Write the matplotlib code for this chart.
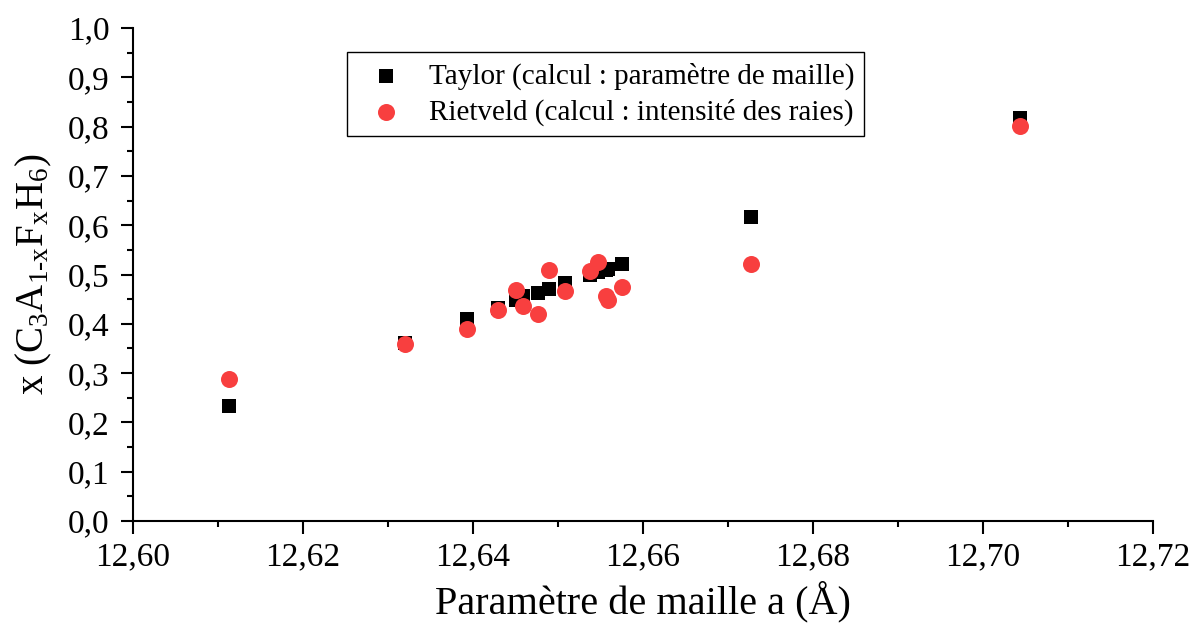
import numpy as np
import matplotlib.pyplot as plt
from matplotlib.ticker import MultipleLocator, FuncFormatter

plt.rcParams['font.family'] = ['Liberation Serif', 'DejaVu Serif']
plt.rcParams['mathtext.fontset'] = 'custom'
plt.rcParams['mathtext.rm'] = 'Liberation Serif'
plt.rcParams['mathtext.default'] = 'rm'

# lattice parameter a (Å), shared by both series
a_param = [12.6113, 12.6320, 12.6393, 12.6430, 12.6451, 12.6459, 12.6476,
           12.6490, 12.6508, 12.6538, 12.6547, 12.6557, 12.6559, 12.6575,
           12.6727, 12.7044]
# Taylor (from lattice parameter)
x_taylor = [0.233, 0.362, 0.409, 0.432, 0.449, 0.456, 0.462,
            0.471, 0.483, 0.500, 0.505, 0.510, 0.512, 0.522,
            0.617, 0.818]
# Rietveld (from line intensities)
x_rietveld = [0.288, 0.360, 0.390, 0.427, 0.468, 0.436, 0.419,
              0.510, 0.466, 0.507, 0.525, 0.456, 0.449, 0.474,
              0.522, 0.801]

fig = plt.figure(figsize=(12, 6.33), dpi=100)
ax = fig.add_axes([0.1108, 0.1769, 0.85, 0.7789])

ax.scatter(a_param, x_taylor, marker='s', s=110, color='black', linewidths=0,
           label='Taylor (calcul : paramètre de maille)', zorder=3)
ax.scatter(a_param, x_rietveld, marker='o', s=150, color='#f83f3f', linewidths=0,
           label='Rietveld (calcul : intensité des raies)', zorder=4)

ax.set_xlim(12.60, 12.72)
ax.set_ylim(0.0, 1.0)
ax.xaxis.set_major_locator(MultipleLocator(0.02))
ax.xaxis.set_minor_locator(MultipleLocator(0.01))
ax.yaxis.set_major_locator(MultipleLocator(0.1))
ax.yaxis.set_minor_locator(MultipleLocator(0.05))
ax.xaxis.set_major_formatter(FuncFormatter(lambda v, p: f'{v:.2f}'.replace('.', ',')))
ax.yaxis.set_major_formatter(FuncFormatter(lambda v, p: f'{v:.1f}'.replace('.', ',')))

for s in ['top', 'right']:
    ax.spines[s].set_visible(False)
for s in ['left', 'bottom']:
    ax.spines[s].set_linewidth(1.5)
ax.tick_params(which='major', direction='out', length=9, width=1.5, labelsize=24)
ax.tick_params(which='minor', direction='out', length=4.5, width=1.5)
ax.tick_params(axis='x', which='major', pad=6)
ax.tick_params(axis='y', which='major', pad=8)

ax.set_xlabel('Paramètre de maille a (Å)', fontsize=29, labelpad=6)
ax.set_ylabel('x (C$_3$A$_{1‐x}$F$_x$H$_6$)', fontsize=28, labelpad=10)

leg = ax.legend(loc='upper left', bbox_to_anchor=(347/1200, 1 - 52/633),
                bbox_transform=fig.transFigure, fontsize=21, frameon=True,
                fancybox=False, edgecolor='black', framealpha=1,
                borderaxespad=0, handletextpad=0.45, borderpad=0.35,
                labelspacing=0.3)
leg.get_frame().set_linewidth(1.0)

fig.savefig('out.png', dpi=100)
